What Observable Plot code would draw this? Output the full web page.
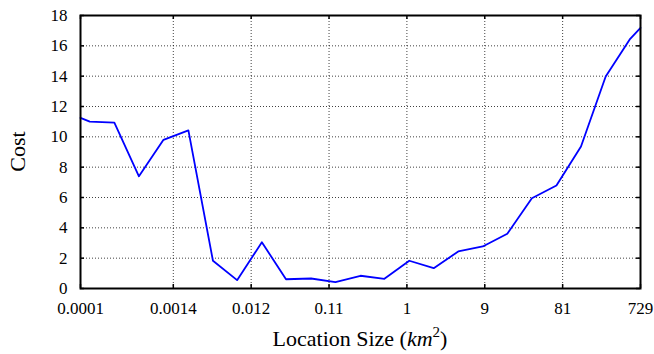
<!DOCTYPE html>
<html>
<head>
<meta charset="utf-8">
<script src="https://cdn.jsdelivr.net/npm/d3@7"></script>
<script src="https://cdn.jsdelivr.net/npm/@observablehq/plot@0.6"></script>
<style>
  html, body { margin: 0; padding: 0; background: #fff; }
  #chart { width: 654px; height: 354px; }
</style>
</head>
<body>
<div id="chart"></div>
<script>
// Location size (km^2) values of each sample
const sizes = [0.0001, 0.00013, 0.00026, 0.00052, 0.00104, 0.0021, 0.0042, 0.0083, 0.0167, 0.033, 0.067, 0.133, 0.27, 0.53, 1.07, 2.13, 4.26, 8.5, 17, 34, 68, 136, 273, 545, 729];
// Cost values
const costs = [11.25, 11.0, 10.94, 7.40, 9.80, 10.43, 1.83, 0.55, 3.05, 0.61, 0.66, 0.42, 0.84, 0.64, 1.83, 1.34, 2.44, 2.77, 3.61, 5.95, 6.79, 9.36, 13.98, 16.46, 17.19];
// Axis ticks
const xTickValues = [0.0001, 1/729, 1/81, 1/9, 1, 9, 81, 729];
const xTickLabels = ["0.0001", "0.0014", "0.012", "0.11", "1", "9", "81", "729"];
const yTickValues = [0, 2, 4, 6, 8, 10, 12, 14, 16, 18];
const xDomain = [0.0001, 729];
const yDomain = [0, 18];

const data = sizes.map((s, i) => ({size: s, cost: costs[i]}));

const W = 654, H = 354;
const M = {top: 15, right: 14, bottom: 66, left: 80};
const plotW = W - M.left - M.right;
const plotH = H - M.top - M.bottom;
const tickLen = 4;
const font = "'Liberation Serif', 'Times New Roman', serif";

const gridStyle = {stroke: "#000", strokeOpacity: 0.75, strokeWidth: 1, strokeDasharray: "1,2"};
const innerY = yTickValues.filter(v => v > yDomain[0] && v < yDomain[1]);
const innerX = xTickValues.filter(v => v > xDomain[0] && v < xDomain[1]);
const labelStyle = {fontSize: 17, fontFamily: font, fill: "#000"};

const chart = Plot.plot({
  width: W,
  height: H,
  marginTop: M.top,
  marginRight: M.right,
  marginBottom: M.bottom,
  marginLeft: M.left,
  style: {fontFamily: font, background: "#fff", color: "#000"},
  x: {type: "log", domain: xDomain, label: null, axis: null},
  y: {domain: yDomain, label: null, axis: null},
  marks: [
    Plot.gridX(innerX, gridStyle),
    Plot.gridY(innerY, gridStyle),
    Plot.tickX(xTickValues, {x: d => d, insetTop: plotH - tickLen, stroke: "#000", strokeWidth: 1.5}),
    Plot.tickX(xTickValues, {x: d => d, insetBottom: plotH - tickLen, stroke: "#000", strokeWidth: 1.5}),
    Plot.tickY(yTickValues, {y: d => d, insetRight: plotW - tickLen, stroke: "#000", strokeWidth: 1.5}),
    Plot.tickY(yTickValues, {y: d => d, insetLeft: plotW - tickLen, stroke: "#000", strokeWidth: 1.5}),
    Plot.text(xTickValues, {x: d => d, text: (d, i) => xTickLabels[i], frameAnchor: "bottom", lineAnchor: "top", dy: 13, ...labelStyle}),
    Plot.text(yTickValues, {y: d => d, text: d => String(d), frameAnchor: "left", textAnchor: "end", dx: -13, ...labelStyle}),
    Plot.line(data, {x: "size", y: "cost", stroke: "#0000ff", strokeWidth: 1.8}),
    Plot.frame({stroke: "#000", strokeWidth: 2})
  ]
});

const svg = d3.select(chart);
// Y axis title
svg.append("text")
  .attr("transform", `translate(17.5,${M.top + plotH / 2}) rotate(-90)`)
  .attr("text-anchor", "middle")
  .attr("dominant-baseline", "central")
  .attr("font-family", font)
  .attr("font-size", 22)
  .attr("fill", "#000")
  .text("Cost");
// X axis title with math-styled unit
const xt = svg.append("text")
  .attr("x", M.left + plotW / 2)
  .attr("y", 345.5)
  .attr("text-anchor", "middle")
  .attr("font-family", font)
  .attr("font-size", 22)
  .attr("fill", "#000");
xt.append("tspan").text("Location Size (");
xt.append("tspan").attr("font-style", "italic").text("km");
xt.append("tspan").attr("font-size", 15).attr("dy", -9).text("2");
xt.append("tspan").attr("dy", 9).text(")");

document.getElementById("chart").appendChild(chart);
</script>
</body>
</html>
